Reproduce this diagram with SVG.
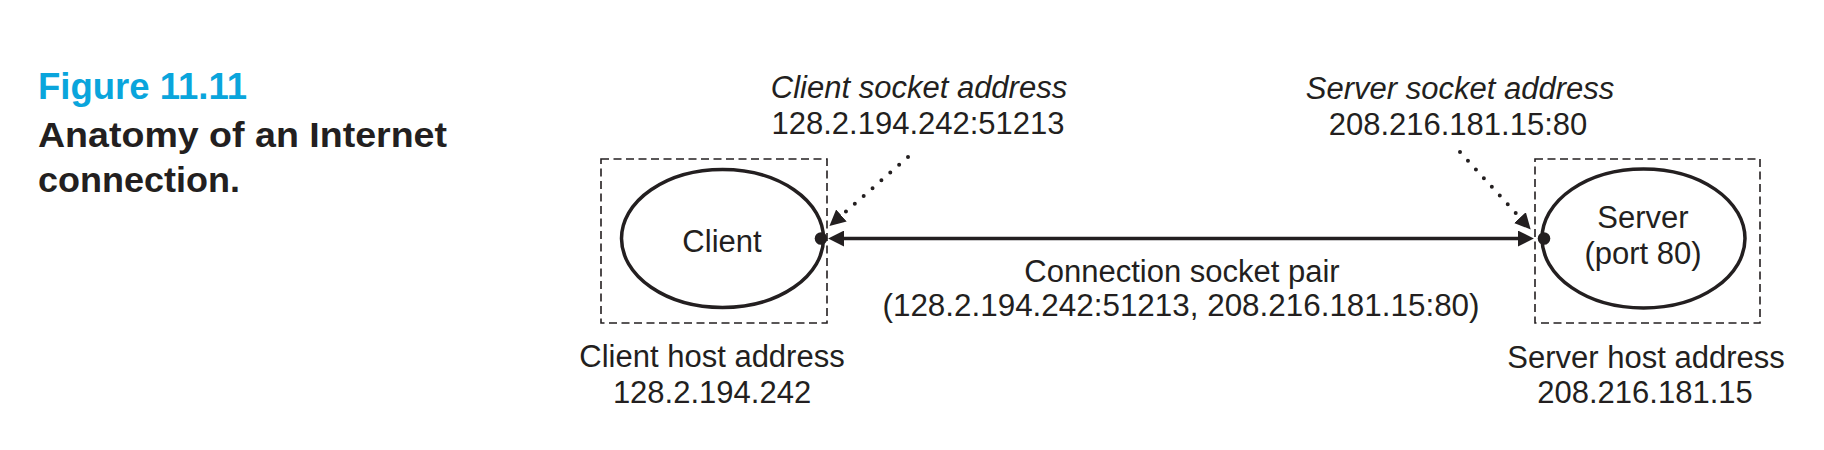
<svg xmlns="http://www.w3.org/2000/svg" width="1824" height="450" viewBox="0 0 1824 450">
<style>
.t{font-family:"Liberation Sans",Arial,Helvetica,sans-serif;font-size:31px;fill:#231f20;text-anchor:middle}
.i{font-style:italic}
.cap{font-family:"Liberation Sans",Arial,sans-serif;font-weight:bold;fill:#231f20}
.fig{fill:#0aa5dc}
.box{fill:none;stroke:#231f20;stroke-width:1.6;stroke-dasharray:8 4.5}
.ell{fill:#fff;stroke:#231f20;stroke-width:3.5}
.dot{fill:#231f20}
.solid{fill:none;stroke:#231f20;stroke-width:3.5}
.dotted{fill:none;stroke:#231f20;stroke-width:4;stroke-linecap:round;stroke-dasharray:0 11.8}
</style>
<defs>
<marker id="ah" markerUnits="userSpaceOnUse" markerWidth="16" markerHeight="16" viewBox="0 0 14 14" refX="8" refY="7" orient="auto-start-reverse">
<path d="M0,0 L14,7 L0,14 z" fill="#231f20"/>
</marker>
<marker id="ahd" markerUnits="userSpaceOnUse" markerWidth="16" markerHeight="16" viewBox="0 0 14 14" refX="4" refY="7" orient="auto">
<path d="M0,0 L14,7 L0,14 z" fill="#231f20"/>
</marker>
</defs>
<g id="caption">
<text class="cap fig" x="38" y="99" font-size="36" textLength="209" lengthAdjust="spacingAndGlyphs">Figure 11.11</text>
<text class="cap" x="38" y="147" font-size="34.5" textLength="409" lengthAdjust="spacingAndGlyphs">Anatomy of an Internet</text>
<text class="cap" x="38" y="192" font-size="34.5" textLength="202" lengthAdjust="spacingAndGlyphs">connection.</text>
</g>
<g id="client-host">
<rect class="box" x="601" y="159" width="226" height="164"/>
<text class="t" x="712" y="367">Client host address</text>
<text class="t" x="712" y="403">128.2.194.242</text>
</g>
<g id="client">
<ellipse class="ell" cx="722.5" cy="238.5" rx="101" ry="69"/>
<text class="t" x="722" y="252">Client</text>
<circle class="dot" cx="821" cy="238.5" r="6.3"/>
</g>
<g id="server-host">
<rect class="box" x="1535" y="159" width="225" height="164"/>
<text class="t" x="1646" y="368">Server host address</text>
<text class="t" x="1645" y="403">208.216.181.15</text>
</g>
<g id="server">
<ellipse class="ell" cx="1643.5" cy="238.5" rx="101.5" ry="69.5"/>
<text class="t" x="1643" y="228">Server</text>
<text class="t" x="1643" y="264">(port 80)</text>
<circle class="dot" cx="1544" cy="238.5" r="6.3"/>
</g>
<g id="client-socket">
<text class="t i" x="919" y="98">Client socket address</text>
<text class="t" x="918" y="134">128.2.194.242:51213</text>
</g>
<g id="server-socket">
<text class="t i" x="1460" y="99">Server socket address</text>
<text class="t" x="1458" y="135">208.216.181.15:80</text>
</g>
<g id="connection-label">
<text class="t" x="1182" y="282">Connection socket pair</text>
<text class="t" x="1181" y="316" textLength="597" lengthAdjust="spacingAndGlyphs">(128.2.194.242:51213, 208.216.181.15:80)</text>
</g>
<g id="connectors">
<path class="solid" d="M835,238.5 L1527,238.5" marker-start="url(#ah)" marker-end="url(#ah)"/>
<path class="dotted" d="M908,157 L838,218.5" marker-end="url(#ahd)"/>
<path class="dotted" d="M1460,152 L1523,221" marker-end="url(#ahd)"/>
</g>
</svg>
